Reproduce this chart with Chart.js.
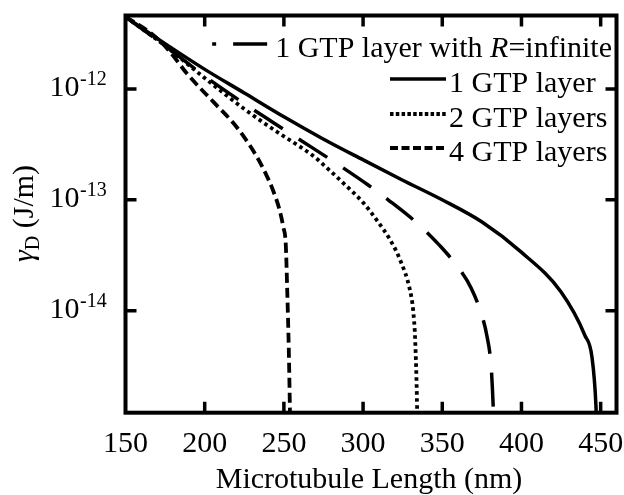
<!DOCTYPE html>
<html>
<head>
<meta charset="utf-8">
<title>Dissipation energy vs microtubule length</title>
<script src="https://cdn.jsdelivr.net/npm/chart.js@4.4.0/dist/chart.umd.min.js"></script>
<style>
  html, body { margin: 0; padding: 0; background: #fff; }
  #wrap { width: 624px; height: 495px; }
</style>
</head>
<body>
<div id="wrap"><canvas id="gammaChart" width="624" height="495"></canvas></div>
<script>
// Microtubule length (nm) and gamma_D (J/m) for each case
const lenInfinite = [150, 175.2, 199.8, 222.5, 242.7, 260.3, 285.6, 303.2, 315.8, 334.7, 348.6, 361.2, 368.2, 375.1, 378.2, 380.8, 381.7, 382.3, 383];
const gammaInfinite = [4.47e-12, 2.44e-12, 1.31e-12, 7.8e-13, 5.04e-13, 3.47e-13, 2.02e-13, 1.36e-13, 1.0e-13, 6.05e-14, 3.84e-14, 2.33e-14, 1.6e-14, 8.95e-15, 5.9e-15, 3.23e-15, 1.92e-15, 1.19e-15, 5e-16];

const lenOne = [150, 175.2, 199.8, 225, 250.3, 274.8, 300.1, 324.7, 349.9, 375.1, 399.7, 424.9, 440, 444.5, 447, 448];
const gammaOne = [4.47e-12, 2.55e-12, 1.51e-12, 9.2e-13, 5.58e-13, 3.54e-13, 2.29e-13, 1.51e-13, 1.0e-13, 6.3e-14, 3.39e-14, 1.48e-14, 6.0e-15, 3.82e-15, 1.41e-15, 5e-16];

const lenTwo = [150, 175.2, 199.8, 225, 245.8, 258.4, 268.5, 279.3, 290, 300.1, 309.5, 317.1, 323.4, 329.7, 331.6, 332.9, 334.1, 334.5];
const gammaTwo = [4.47e-12, 2.44e-12, 1.26e-12, 6.6e-13, 4.09e-13, 3.13e-13, 2.49e-13, 1.82e-13, 1.31e-13, 9.4e-14, 6.3e-14, 4.35e-14, 2.86e-14, 1.51e-14, 1.01e-14, 5.4e-15, 1.32e-15, 5e-16];

const lenFour = [150, 165.8, 176.5, 189.1, 205.5, 218.1, 225.7, 232.6, 238.3, 243.3, 247.1, 249.6, 251.2, 252.1, 253.1, 253.7, 254.3];
const gammaFour = [4.47e-12, 3.2e-12, 2.3e-12, 1.36e-12, 7.64e-13, 4.93e-13, 3.54e-13, 2.49e-13, 1.75e-13, 1.2e-13, 8.26e-14, 5.69e-14, 3.92e-14, 1.54e-14, 4.43e-15, 1.57e-15, 5e-16];

const seriesNames = ['1 GTP layer with R=infinite', '1 GTP layer', '2 GTP layers', '4 GTP layers'];
const xTicks = [150, 200, 250, 300, 350, 400, 450];
const yTicks = [1e-12, 1e-13, 1e-14];

const SERIF = '"Liberation Serif", "Times New Roman", serif';

function toPoints(xs, ys) {
  return xs.map((v, i) => ({ x: v, y: ys[i] }));
}

function lineSet(label, xs, ys, dash, width, keyDash) {
  return {
    label: label,
    data: toPoints(xs, ys),
    borderColor: '#000',
    borderWidth: width,
    borderDash: dash,
    keyDash: keyDash,
    pointRadius: 0,
    fill: false,
    cubicInterpolationMode: 'monotone'
  };
}

// Frame, inward ticks, tick labels, axis titles and the legend
const frameAndText = {
  id: 'frameAndText',
  afterDraw(chart) {
    const ctx = chart.ctx;
    const a = chart.chartArea;
    const x = chart.scales.x;
    const y = chart.scales.y;
    ctx.save();
    ctx.fillStyle = '#000';
    ctx.strokeStyle = '#000';
    ctx.setLineDash([]);

    ctx.lineWidth = 4;
    ctx.strokeRect(a.left, a.top, a.right - a.left, a.bottom - a.top);

    ctx.lineWidth = 3.5;
    ctx.beginPath();
    xTicks.forEach(v => {
      const px = x.getPixelForValue(v);
      if (px <= a.left + 2) return;
      ctx.moveTo(px, a.bottom); ctx.lineTo(px, a.bottom - 11);
      ctx.moveTo(px, a.top); ctx.lineTo(px, a.top + 11);
    });
    yTicks.forEach(v => {
      const py = y.getPixelForValue(v);
      ctx.moveTo(a.left, py); ctx.lineTo(a.left + 11, py);
      ctx.moveTo(a.right, py); ctx.lineTo(a.right - 11, py);
    });
    ctx.stroke();

    // x tick labels
    ctx.font = '30px ' + SERIF;
    ctx.textAlign = 'center';
    ctx.textBaseline = 'alphabetic';
    xTicks.forEach(v => ctx.fillText(String(v), x.getPixelForValue(v), a.bottom + 39.5));

    // y tick labels as 10^n
    yTicks.forEach(v => {
      const py = y.getPixelForValue(v);
      const exp = Math.round(Math.log10(v));
      ctx.font = '30px ' + SERIF;
      ctx.textAlign = 'right';
      ctx.fillText('10', 79.5, py + 7);
      ctx.font = '20px ' + SERIF;
      ctx.textAlign = 'left';
      ctx.fillText('-' + Math.abs(exp), 80, py - 4);
    });

    // x title
    ctx.font = '30px ' + SERIF;
    ctx.textAlign = 'center';
    ctx.fillText('Microtubule Length (nm)', 369, 488);

    // y title, rotated
    ctx.save();
    ctx.translate(33, 262);
    ctx.rotate(-Math.PI / 2);
    ctx.textAlign = 'left';
    ctx.font = 'italic 30px ' + SERIF;
    ctx.fillText('\u03b3', 0, 0);
    let cx = ctx.measureText('\u03b3').width;
    ctx.font = '20px ' + SERIF;
    ctx.fillText('D', cx, 6);
    cx += ctx.measureText('D').width;
    ctx.font = '30px ' + SERIF;
    ctx.fillText(' (J/m)', cx, 0);
    ctx.restore();

    // legend
    const sets = chart.data.datasets;
    ctx.textAlign = 'left';

    // first row: "1 GTP layer with R=infinite", right aligned
    const nameParts = seriesNames[0].split('R');
    const parts = [
      { t: nameParts[0], f: '30px ' + SERIF },
      { t: 'R', f: 'italic 30px ' + SERIF },
      { t: nameParts[1], f: '30px ' + SERIF }
    ];
    let total = 0;
    parts.forEach(p => { ctx.font = p.f; p.w = ctx.measureText(p.t).width; total += p.w; });
    let tx = 612 - total;
    const base1 = 57;
    parts.forEach(p => { ctx.font = p.f; ctx.fillText(p.t, tx, base1); tx += p.w; });
    const dashEnd = 612 - total - 8;
    ctx.lineWidth = sets[0].borderWidth;
    ctx.beginPath();
    ctx.moveTo(dashEnd - 34, base1 - 13); ctx.lineTo(dashEnd, base1 - 13);
    ctx.moveTo(dashEnd - 55, base1 - 13); ctx.lineTo(dashEnd - 51, base1 - 13);
    ctx.stroke();

    // remaining rows
    const bases = [92, 127, 161];
    [1, 2, 3].forEach((di, i) => {
      const ds = sets[di];
      ctx.lineWidth = ds.borderWidth;
      ctx.setLineDash(ds.keyDash || []);
      ctx.beginPath();
      ctx.moveTo(390, bases[i] - 13);
      ctx.lineTo(446, bases[i] - 13);
      ctx.stroke();
      ctx.setLineDash([]);
      ctx.font = '30px ' + SERIF;
      ctx.fillText(seriesNames[di], 449, bases[i]);
    });

    ctx.restore();
  }
};

new Chart(document.getElementById('gammaChart'), {
  type: 'line',
  data: {
    datasets: [
      lineSet(seriesNames[0], lenInfinite, gammaInfinite, [34, 19], 3.5, []),
      lineSet(seriesNames[1], lenOne, gammaOne, [], 3.5, []),
      lineSet(seriesNames[2], lenTwo, gammaTwo, [3.5, 3.5], 3.8, [3.5, 2.3]),
      lineSet(seriesNames[3], lenFour, gammaFour, [10, 5], 3.8, [8, 3.5])
    ]
  },
  options: {
    responsive: false,
    animation: false,
    devicePixelRatio: 1,
    layout: { padding: { left: 125.5, top: 15.5, right: 7.5, bottom: 82.3 } },
    plugins: { legend: { display: false }, tooltip: { enabled: false } },
    scales: {
      x: { type: 'linear', min: 150, max: 460, display: false },
      y: { type: 'logarithmic', min: 1.2e-15, max: 4.6e-12, display: false }
    }
  },
  plugins: [frameAndText]
});
</script>
</body>
</html>
